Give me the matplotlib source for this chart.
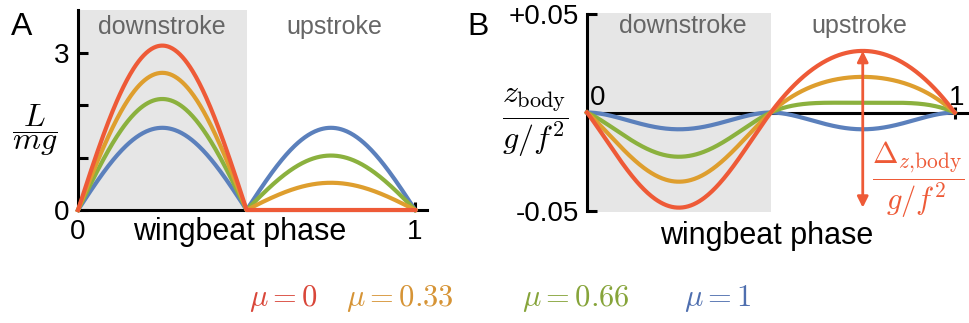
"""Lift and body heave over one wingbeat, for several upstroke lift fractions."""

import matplotlib

matplotlib.use("Agg")
import matplotlib.pyplot as plt
import numpy as np

plt.rcParams["font.family"] = ["Liberation Sans", "DejaVu Sans"]
plt.rcParams["mathtext.fontset"] = "cm"

# Data
mu_labels = [r"$\mu = 0$", r"$\mu = 0.33$", r"$\mu = 0.66$", r"$\mu = 1$"]
lift_peak_down = [3.14, 2.62, 2.12, 1.57]  # L/mg peak during downstroke
lift_peak_up = [0.0, 0.52, 1.04, 1.57]  # L/mg peak during upstroke
line_colors = ["#EE5A37", "#DE9E2E", "#8BB13E", "#5B80BC"]
text_colors = ["#D9473A", "#D69436", "#86A43A", "#4F6FAF"]

SHADE = "#E6E6E6"
GREY_TEXT = "#666666"
TICK_FS = 20
LABEL_FS = 22


def half_stroke(peak, s):
    """Lift and body height (units of g/f^2) for one half-stroke, s in [0, 0.5]."""
    lift = peak * np.sin(2 * np.pi * s)
    z = -peak * np.sin(2 * np.pi * s) / (4 * np.pi**2) - s**2 / 2 + s / 4
    return lift, z


s = np.linspace(0, 0.5, 201)
phase = np.concatenate([s, s + 0.5])

fig = plt.figure(figsize=(9.69, 3.23), dpi=100)

# ---------------- Panel A ----------------
ax_a = fig.add_axes([78 / 969, 113 / 323, 349 / 969, 200 / 323])
ax_a.axvspan(0, 0.5, color=SHADE, lw=0, zorder=0)
for i in range(3, -1, -1):
    lift_d, _ = half_stroke(lift_peak_down[i], s)
    lift_u, _ = half_stroke(lift_peak_up[i], s)
    ax_a.plot(phase, np.concatenate([lift_d, lift_u]), color=line_colors[i],
              lw=3, clip_on=False, zorder=3 + (3 - i))
ax_a.set_xlim(0, 1.035)
ax_a.set_ylim(0, 3.82)
for side in ["top", "right"]:
    ax_a.spines[side].set_visible(False)
for side in ["left", "bottom"]:
    ax_a.spines[side].set_linewidth(2.2)
ax_a.set_yticks([0, 1, 2, 3])
ax_a.set_yticklabels(["0", "", "", "3"])
ax_a.tick_params(axis="y", direction="in", length=7, width=2.2,
                 labelsize=TICK_FS, pad=6)
ax_a.set_xticks([1])
ax_a.set_xticklabels([""])
ax_a.tick_params(axis="x", direction="in", length=6, width=2.2)

fig.text(22 / 969, 1 - 27 / 323, "A", fontsize=23, ha="center", va="center")
ax_a.text(0.25, 3.5, "downstroke", fontsize=18, color=GREY_TEXT, ha="center", va="center")
ax_a.text(0.76, 3.5, "upstroke", fontsize=18, color=GREY_TEXT, ha="center", va="center")
fig.text(78 / 969, 1 - 232 / 323, "0", fontsize=TICK_FS, ha="center", va="center")
fig.text(415 / 969, 1 - 232 / 323, "1", fontsize=TICK_FS, ha="center", va="center")
fig.text(240 / 969, 1 - 232 / 323, "wingbeat phase", fontsize=LABEL_FS,
         ha="center", va="center")
fig.text(35 / 969, 1 - 130 / 323, r"$\dfrac{L}{mg}$", fontsize=23,
         ha="center", va="center")

# ---------------- Panel B ----------------
ax_b = fig.add_axes([587 / 969, 111 / 323, 382 / 969, 199 / 323])
ax_b.axvspan(0, 0.5, color=SHADE, lw=0, zorder=0)
ax_b.axhline(0, color="black", lw=2.2, zorder=2)
z_curves = []
for i in range(3, -1, -1):
    _, z_d = half_stroke(lift_peak_down[i], s)
    _, z_u = half_stroke(lift_peak_up[i], s)
    z_all = np.concatenate([z_d, z_u])
    z_curves.append(z_all)
    ax_b.plot(phase, z_all, color=line_colors[i], lw=3, clip_on=False,
              zorder=3 + (3 - i))
ax_b.plot([1], [0], marker="|", color="black", ms=8, mew=2.2, zorder=2)
ax_b.set_xlim(0, 1.039)
ax_b.set_ylim(-0.0505, 0.0505)
for side in ["top", "right", "bottom"]:
    ax_b.spines[side].set_visible(False)
ax_b.spines["left"].set_linewidth(2.2)
ax_b.spines["left"].set_bounds(-0.05, 0.05)
ax_b.set_xticks([])
ax_b.set_yticks([-0.05, 0.05])
ax_b.set_yticklabels(["-0.05", "+0.05"])
ax_b.tick_params(axis="y", direction="in", length=7, width=2.2,
                 labelsize=TICK_FS, pad=6)

# red double arrow spanning the mu = 0 excursion
z_red = z_curves[-1]
ax_b.annotate("", xy=(0.75, z_red.max()), xytext=(0.75, z_red.min()),
              arrowprops=dict(arrowstyle="<|-|>", color=line_colors[0], lw=2,
                              mutation_scale=16, shrinkA=0, shrinkB=0),
              zorder=8)
fig.text(918 / 969, 1 - 180 / 323,
         r"$\dfrac{\Delta_{z{,}\mathrm{body}}}{g/f^2}$",
         fontsize=22, color=line_colors[0], ha="center", va="center")

fig.text(478 / 969, 1 - 27 / 323, "B", fontsize=23, ha="center", va="center")
ax_b.text(0.26, 0.044, "downstroke", fontsize=18, color=GREY_TEXT, ha="center", va="center")
ax_b.text(0.74, 0.044, "upstroke", fontsize=18, color=GREY_TEXT, ha="center", va="center")
fig.text(598 / 969, 1 - 98 / 323, "0", fontsize=TICK_FS, ha="center", va="center")
fig.text(957 / 969, 1 - 98 / 323, "1", fontsize=TICK_FS, ha="center", va="center")
fig.text(767 / 969, 1 - 236 / 323, "wingbeat phase", fontsize=LABEL_FS,
         ha="center", va="center")
fig.text(535 / 969, 1 - 123 / 323, r"$\dfrac{z_{\mathrm{body}}}{g/f^2}$",
         fontsize=23, ha="center", va="center")

# ---------------- colour key ----------------
key_x = [283, 400, 576, 718]
for label, color, x in zip(mu_labels, text_colors, key_x):
    fig.text(x / 969, 1 - 298 / 323, label, fontsize=22, color=color,
             ha="center", va="center")

fig.savefig("out.png", dpi=100)
